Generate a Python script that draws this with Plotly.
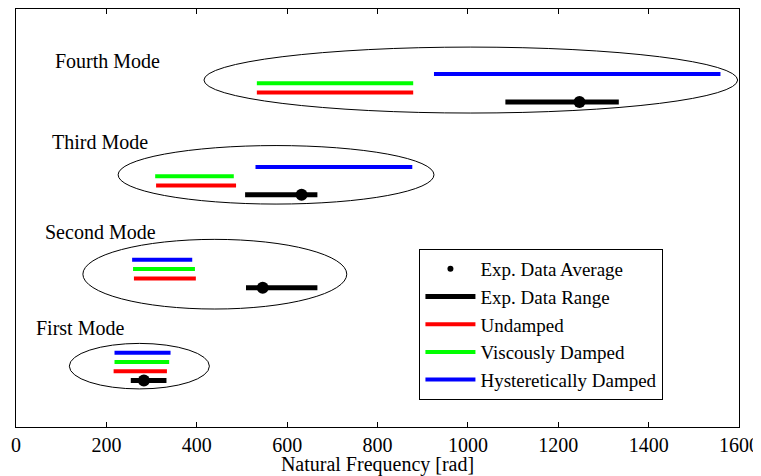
import plotly.graph_objects as go

modes = ["First Mode", "Second Mode", "Third Mode", "Fourth Mode"]
mode_level = [1, 2, 3, 4]

undamped_lo = [216, 261, 310, 533]
undamped_hi = [334, 398, 487, 879]
viscous_lo = [218, 259, 308, 533]
viscous_hi = [339, 396, 482, 879]
hyster_lo = [218, 257, 530, 925]
hyster_hi = [342, 390, 877, 1559]
exp_lo = [254, 509, 507, 1083]
exp_hi = [333, 667, 667, 1334]
exp_avg = [283, 546, 632, 1247]

# ellipse extents (x range, y range) around each mode group
ell_x0 = [118, 148, 226, 416]
ell_x1 = [428, 732, 925, 1597]
ell_y0 = [0.41, 1.27, 2.40, 3.38]
ell_y1 = [0.90, 2.02, 3.03, 4.09]

label_x = [40, 59, 76, 81]
label_y = [1.07, 2.10, 3.07, 3.935]

off = {"hyst": -0.2, "visc": -0.3, "und": -0.4, "exp": -0.5}

FONT = "Liberation Serif"

def seg(lo, hi, dy):
    xs, ys = [], []
    for a, b, k in zip(lo, hi, mode_level):
        xs += [a, b, None]
        ys += [k + dy, k + dy, None]
    return xs, ys

fig = go.Figure()

# legend-only average marker (small dot)
fig.add_trace(go.Scatter(x=[None], y=[None], mode="markers", name="Exp. Data Average",
                         marker=dict(color="black", size=6)))
x, y = seg(exp_lo, exp_hi, off["exp"])
fig.add_trace(go.Scatter(x=x, y=y, mode="lines", name="Exp. Data Range",
                         line=dict(color="black", width=5)))
x, y = seg(undamped_lo, undamped_hi, off["und"])
fig.add_trace(go.Scatter(x=x, y=y, mode="lines", name="Undamped",
                         line=dict(color="#ff0000", width=4)))
x, y = seg(viscous_lo, viscous_hi, off["visc"])
fig.add_trace(go.Scatter(x=x, y=y, mode="lines", name="Viscously Damped",
                         line=dict(color="#00ff00", width=4)))
x, y = seg(hyster_lo, hyster_hi, off["hyst"])
fig.add_trace(go.Scatter(x=x, y=y, mode="lines", name="Hysteretically Damped",
                         line=dict(color="#0000ff", width=4)))
fig.add_trace(go.Scatter(x=exp_avg, y=[k + off["exp"] for k in mode_level], mode="markers",
                         showlegend=False, marker=dict(color="black", size=12)))

for i in range(4):
    fig.add_shape(type="circle", xref="x", yref="y", x0=ell_x0[i], x1=ell_x1[i],
                  y0=ell_y0[i], y1=ell_y1[i], line=dict(color="black", width=1), layer="below")
    fig.add_annotation(x=label_x[i], y=label_y[i], xref="x", yref="y", text=modes[i],
                       showarrow=False, xanchor="left", yanchor="middle",
                       font=dict(family=FONT, size=20, color="black"))

fig.update_layout(
    width=753, height=468,
    margin=dict(l=8, r=22, t=1, b=49),
    plot_bgcolor="white", paper_bgcolor="white",
    font=dict(family=FONT, size=20, color="black"),
    showlegend=True,
    legend=dict(x=0.558, y=0.426, xanchor="left", yanchor="top",
                bordercolor="black", borderwidth=1, bgcolor="white", itemwidth=50,
                font=dict(family=FONT, size=19), tracegroupgap=0),
)
fig.update_xaxes(range=[0, 1600], tickvals=list(range(0, 1601, 200)), automargin=False,
                 ticks="inside", ticklen=5, tickcolor="black", showline=True, linecolor="black",
                 linewidth=1, mirror="ticks", showgrid=False, zeroline=False,
                 tickfont=dict(family=FONT, size=20),
                 title=dict(text="Natural Frequency [rad]", font=dict(family=FONT, size=20), standoff=2))
fig.update_yaxes(range=[0, 4.5], showticklabels=False, ticks="", showline=True, linecolor="black",
                 linewidth=1, mirror=True, showgrid=False, zeroline=False, automargin=False)

fig.write_html("out.html")
